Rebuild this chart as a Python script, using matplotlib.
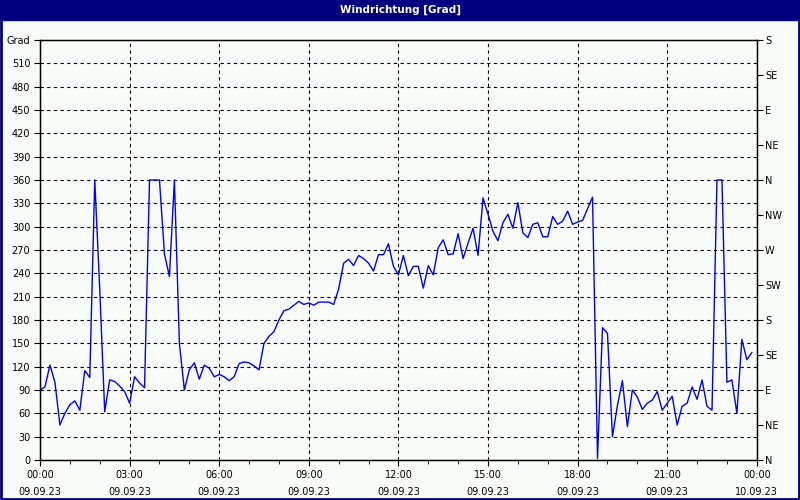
import pandas as pd
import matplotlib
matplotlib.use("Agg")
import matplotlib.pyplot as plt
import matplotlib.dates as mdates
from matplotlib.patches import Rectangle

# Windrichtung in Grad, 10-Minuten-Werte ab 09.09.23 00:00
richtung = [
    90, 94, 122, 100, 45, 60, 71, 76, 64, 115, 106, 360, 220, 62, 103, 101,
    95, 88, 73, 107, 99, 93, 360, 360, 360, 265, 236, 360, 150, 90, 116, 125,
    104, 122, 118, 107, 110, 107, 102, 107, 124, 126, 125, 121, 116, 150, 159, 165,
    180, 192, 194, 199, 204, 200, 202, 199, 203, 203, 203, 200, 220, 253, 258, 250,
    263, 259, 253, 243, 264, 264, 278, 249, 238, 263, 237, 249, 249, 221, 250, 238,
    273, 283, 264, 265, 291, 259, 279, 298, 263, 337, 316, 294, 282, 305, 316, 298,
    331, 292, 286, 303, 305, 287, 287, 313, 303, 307, 320, 303, 306, 308, 323, 338,
    2, 170, 163, 30, 70, 102, 43, 90, 81, 65, 73, 77, 88, 64, 73, 82,
    45, 69, 73, 94, 78, 103, 69, 64, 360, 360, 100, 103, 60, 155, 129, 138,
]
zeiten = pd.date_range("2023-09-09 00:00", periods=len(richtung), freq="10min")

y_ticks = list(range(0, 541, 30))
y_labels = [str(v) for v in y_ticks[:-1]] + ["Grad"]
himmel_ticks = list(range(0, 541, 45))
himmel_labels = ["N", "NE", "E", "SE", "S", "SW", "W", "NW", "N", "NE", "E", "SE", "S"]
x_ticks = pd.date_range("2023-09-09 00:00", "2023-09-10 00:00", freq="3h")
x_labels = [t.strftime("%H:%M") + "\n" + t.strftime("%d.%m.%y") for t in x_ticks]

bg = "#f8fcf8"
navy = "#000080"
plt.rcParams["font.family"] = "DejaVu Sans"
plt.rcParams["font.size"] = 7

fig = plt.figure(figsize=(8, 5), dpi=100, facecolor=bg)

# Titelleiste + Rahmen
fig.patches.append(Rectangle((0, 0.96), 1, 0.04, transform=fig.transFigure, color=navy, zorder=0))
fig.patches.append(Rectangle((0.001, 0.002), 0.998, 0.996, transform=fig.transFigure,
                             fill=False, edgecolor=navy, linewidth=2, zorder=5))
fig.text(0.5, 0.981, "Windrichtung [Grad]", color="white", fontweight="bold",
         ha="center", va="center", fontsize=7.5)

ax = fig.add_axes([0.05, 0.08, 0.896, 0.84])
ax.set_facecolor(bg)
ax.plot(zeiten, richtung, color="#0000ff", linewidth=1)

ax.set_ylim(0, 540)
ax.set_yticks(y_ticks)
ax.set_yticklabels(y_labels)
ax.set_xlim(x_ticks[0], x_ticks[-1])
ax.set_xticks(x_ticks)
ax.set_xticklabels(x_labels, linespacing=1.9)
ax.xaxis.set_minor_locator(mdates.HourLocator())

ax.grid(True, which="major", color="black", linestyle=(0, (3, 3)), linewidth=0.8)
ax.tick_params(axis="both", which="both", direction="out", length=4, color="black", pad=3)
ax.tick_params(axis="x", which="minor", length=3)
for s in ax.spines.values():
    s.set_color("black")
    s.set_linewidth(1)

ax2 = ax.twinx()
ax2.set_ylim(0, 540)
ax2.set_yticks(himmel_ticks)
ax2.set_yticklabels(himmel_labels)
ax2.tick_params(axis="y", direction="out", length=4, pad=2)

fig.savefig("out.png", dpi=100, facecolor=bg)
